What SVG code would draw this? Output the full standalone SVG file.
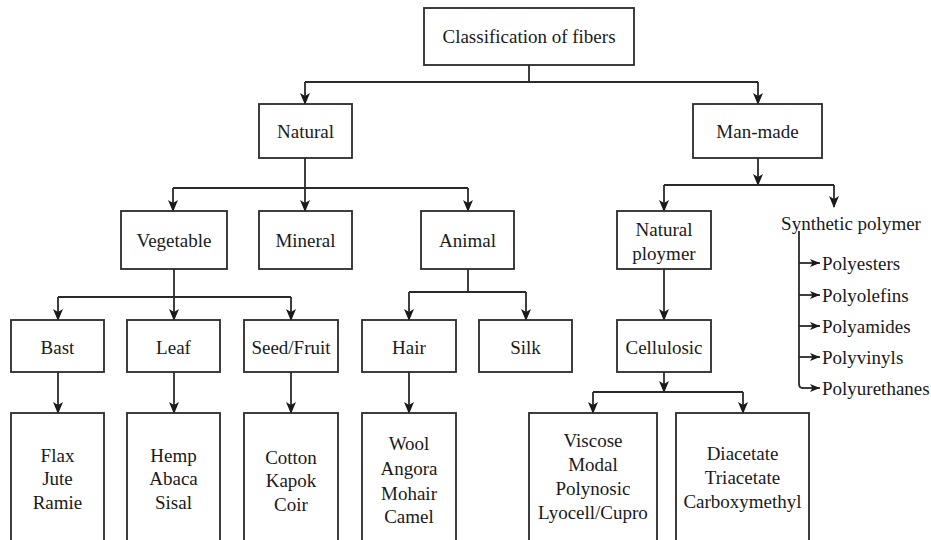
<svg xmlns="http://www.w3.org/2000/svg" width="931" height="540" viewBox="0 0 931 540">
<defs>
<style>
.box{fill:#fff;stroke:#2a2a2a;stroke-width:1.8}
.t{font-family:"Liberation Serif","Times New Roman",serif;font-size:19px;fill:#1a1a1a;text-anchor:middle}
.tl{font-family:"Liberation Serif","Times New Roman",serif;font-size:19px;fill:#1a1a1a;text-anchor:start}
.c{fill:none;stroke:#2a2a2a;stroke-width:1.8}
.a{marker-end:url(#ah)}
.s{marker-end:url(#sh)}
</style>
<marker id="ah" markerUnits="userSpaceOnUse" markerWidth="12" markerHeight="10" viewBox="0 0 12 10" refX="11" refY="5" orient="auto">
<path d="M0,0 L12,5 L0,10 L3,5 z" fill="#1a1a1a"/>
</marker>
<marker id="sh" markerUnits="userSpaceOnUse" markerWidth="10" markerHeight="8" viewBox="0 0 10 8" refX="10" refY="4" orient="auto">
<path d="M0,0 L10,4 L0,8 L2.5,4 z" fill="#1a1a1a"/>
</marker>
</defs>
<rect width="931" height="540" fill="#fff"/>

<g id="connectors">
<path class="c" d="M529,65 V82 M305,82 H758"/>
<path class="c a" d="M305,82 V104"/>
<path class="c a" d="M758,82 V104"/>
<path class="c" d="M305,158 V188 M173,188 H468"/>
<path class="c a" d="M173,188 V211"/>
<path class="c a" d="M305,188 V211"/>
<path class="c a" d="M468,188 V211"/>
<path class="c" d="M174,269 V297 M58,297 H291"/>
<path class="c a" d="M58,297 V320"/>
<path class="c a" d="M174,297 V320"/>
<path class="c a" d="M291,297 V320"/>
<path class="c" d="M468,269 V292 M409,292 H526"/>
<path class="c a" d="M409,292 V320"/>
<path class="c a" d="M526,292 V320"/>
<path class="c a" d="M58,372 V413"/>
<path class="c a" d="M174,372 V413"/>
<path class="c a" d="M291,372 V413"/>
<path class="c a" d="M409,372 V413"/>
<path class="c a" d="M758,158 V185"/>
<path class="c" d="M664,185 H834"/>
<path class="c a" d="M664,185 V211"/>
<path class="c a" d="M834,185 V207"/>
<path class="c a" d="M664,269 V320"/>
<path class="c a" d="M664,372 V392"/>
<path class="c" d="M593,392 H743"/>
<path class="c a" d="M593,392 V413"/>
<path class="c a" d="M743,392 V413"/>
<path class="c" d="M799,231 V384 Q799,388 803,388"/>
<path class="c s" d="M799,263 H820"/>
<path class="c s" d="M799,295 H820"/>
<path class="c s" d="M799,326 H820"/>
<path class="c s" d="M799,357 H820"/>
<path class="c s" d="M802,388 H820"/>
</g>

<g id="root"><rect class="box" x="424" y="8" width="210" height="57"/><text class="t" x="529" y="43">Classification of fibers</text></g>
<g id="natural"><rect class="box" x="259" y="104" width="93" height="54"/><text class="t" x="305.5" y="137.5">Natural</text></g>
<g id="manmade"><rect class="box" x="693" y="104" width="129" height="54"/><text class="t" x="757.5" y="137.5">Man-made</text></g>
<g id="vegetable"><rect class="box" x="121" y="211" width="106" height="58"/><text class="t" x="174" y="246.5">Vegetable</text></g>
<g id="mineral"><rect class="box" x="259" y="211" width="93" height="58"/><text class="t" x="305.5" y="246.5">Mineral</text></g>
<g id="animal"><rect class="box" x="421" y="211" width="93" height="58"/><text class="t" x="467.5" y="246.5">Animal</text></g>
<g id="naturalpolymer"><rect class="box" x="617" y="211" width="94" height="58"/><text class="t" x="664" y="235.5">Natural</text><text class="t" x="664" y="260">ploymer</text></g>
<g id="synthetic"><text class="t" x="851" y="229.5">Synthetic polymer</text></g>
<g id="polyesters"><text class="tl" x="822" y="269.5">Polyesters</text></g>
<g id="polyolefins"><text class="tl" x="822" y="301.5">Polyolefins</text></g>
<g id="polyamides"><text class="tl" x="822" y="332.5">Polyamides</text></g>
<g id="polyvinyls"><text class="tl" x="822" y="363.5">Polyvinyls</text></g>
<g id="polyurethanes"><text class="tl" x="822" y="394.5">Polyurethanes</text></g>
<g id="bast"><rect class="box" x="11" y="320" width="93" height="52"/><text class="t" x="57.5" y="353.5">Bast</text></g>
<g id="leaf"><rect class="box" x="127" y="320" width="93" height="52"/><text class="t" x="173.5" y="353.5">Leaf</text></g>
<g id="seedfruit"><rect class="box" x="244" y="320" width="94" height="52"/><text class="t" x="291" y="353.5">Seed/Fruit</text></g>
<g id="hair"><rect class="box" x="362" y="320" width="94" height="52"/><text class="t" x="409" y="353.5">Hair</text></g>
<g id="silk"><rect class="box" x="479" y="320" width="93" height="52"/><text class="t" x="525.5" y="353.5">Silk</text></g>
<g id="cellulosic"><rect class="box" x="617" y="320" width="94" height="52"/><text class="t" x="664" y="353.5">Cellulosic</text></g>
<g id="bastlist"><rect class="box" x="11" y="413" width="93" height="135"/><text class="t" x="57.5" y="461.5">Flax</text><text class="t" x="57.5" y="485">Jute</text><text class="t" x="57.5" y="508.5">Ramie</text></g>
<g id="leaflist"><rect class="box" x="127" y="413" width="93" height="135"/><text class="t" x="173.5" y="461.5">Hemp</text><text class="t" x="173.5" y="485">Abaca</text><text class="t" x="173.5" y="508.5">Sisal</text></g>
<g id="seedlist"><rect class="box" x="244" y="413" width="94" height="135"/><text class="t" x="291" y="463.5">Cotton</text><text class="t" x="291" y="487">Kapok</text><text class="t" x="291" y="510.5">Coir</text></g>
<g id="hairlist"><rect class="box" x="362" y="413" width="94" height="135"/><text class="t" x="409" y="449.5">Wool</text><text class="t" x="409" y="475">Angora</text><text class="t" x="409" y="499.5">Mohair</text><text class="t" x="409" y="522.5">Camel</text></g>
<g id="viscoselist"><rect class="box" x="529" y="413" width="128" height="135"/><text class="t" x="593" y="446.5">Viscose</text><text class="t" x="593" y="470.5">Modal</text><text class="t" x="593" y="494.5">Polynosic</text><text class="t" x="593" y="519">Lyocell/Cupro</text></g>
<g id="acetatelist"><rect class="box" x="676" y="413" width="133" height="135"/><text class="t" x="742.5" y="459.5">Diacetate</text><text class="t" x="742.5" y="483.5">Triacetate</text><text class="t" x="742.5" y="508">Carboxymethyl</text></g>
</svg>
